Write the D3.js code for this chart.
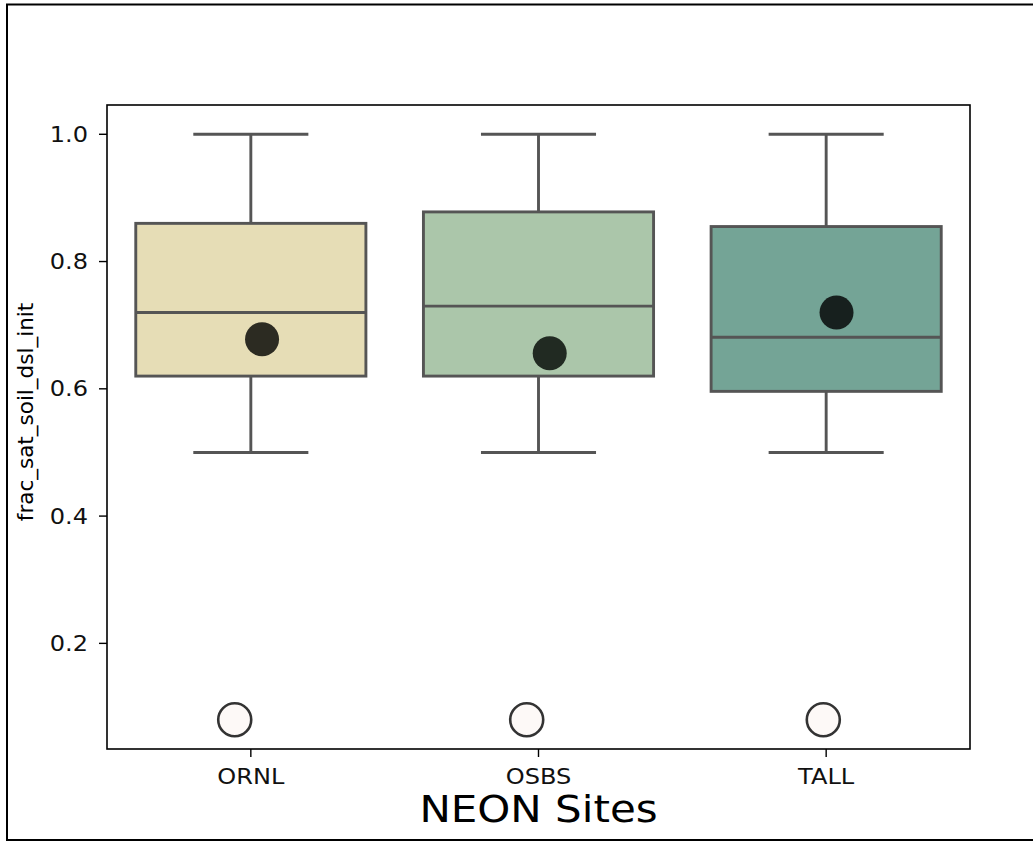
<!DOCTYPE html>
<html>
<head>
<meta charset="utf-8">
<script src="https://cdn.jsdelivr.net/npm/d3@7"></script>
<style>
  body { margin: 0; background: #fff; }
  text { font-family: "DejaVu Sans", sans-serif; }
</style>
</head>
<body>
<div id="canvas"></div>
<script>
"use strict"

let svgWidth = 1033;
let svgHeight = 841;

/* data */
let sites = ["ORNL", "OSBS", "TALL"];
let whiskerLow = [0.5, 0.5, 0.5];
let q1 = [0.62, 0.62, 0.596];
let median = [0.72, 0.73, 0.681];
let q3 = [0.86, 0.878, 0.855];
let whiskerHigh = [1.0, 1.0, 1.0];
let means = [0.678, 0.656, 0.72];
let outliers = [0.08, 0.08, 0.08];
let yTicks = [0.2, 0.4, 0.6, 0.8, 1.0];

let boxColors = ["#e6ddb6", "#abc6aa", "#74a496"];
let meanColors = ["#2c2b22", "#212a22", "#17201e"];
let lineColor = "#555555";

/* strip jitter as a share of the band, as seen in the picture */
let outlierJitter = [-0.056, -0.041, -0.01];
let meanJitter = [0.039, 0.039, 0.036];

let plot = {left: 107, right: 970, top: 105, bottom: 749};
let stretch = 1.12; // text in the picture is a bit wide

let svg = d3.select("#canvas")
    .append("svg")
    .attr("width", svgWidth)
    .attr("height", svgHeight);

/* outer border */
svg.append("rect")
    .attr("x", 7)
    .attr("y", 4.5)
    .attr("width", 1040)
    .attr("height", 835.5)
    .attr("fill", "none")
    .attr("stroke", "black")
    .attr("stroke-width", 2);

/* Scales */
let xScale = d3.scaleBand()
    .domain(sites)
    .range([plot.left, plot.right]);

let yScale = d3.scaleLinear()
    .domain([0.034, 1.046])
    .range([plot.bottom, plot.top]);

let band = xScale.bandwidth();
let boxWidth = band * 0.8;
let capWidth = boxWidth / 2;

let rows = sites.map((s, i) => ({
    site: s, lo: whiskerLow[i], q1: q1[i], med: median[i], q3: q3[i],
    hi: whiskerHigh[i], mean: means[i], out: outliers[i],
    color: boxColors[i], meanColor: meanColors[i],
    oj: outlierJitter[i], mj: meanJitter[i]
}));

let cx = d => xScale(d.site) + band / 2;

let g = svg.selectAll("g.box")
    .data(rows)
    .join("g")
    .attr("class", "box");

/* whiskers */
g.append("line")
    .attr("x1", cx).attr("x2", cx)
    .attr("y1", d => yScale(d.hi)).attr("y2", d => yScale(d.q3))
    .attr("stroke", lineColor).attr("stroke-width", 2.9);

g.append("line")
    .attr("x1", cx).attr("x2", cx)
    .attr("y1", d => yScale(d.q1)).attr("y2", d => yScale(d.lo))
    .attr("stroke", lineColor).attr("stroke-width", 2.9);

g.append("line")
    .attr("x1", d => cx(d) - capWidth / 2).attr("x2", d => cx(d) + capWidth / 2)
    .attr("y1", d => yScale(d.hi)).attr("y2", d => yScale(d.hi))
    .attr("stroke", lineColor).attr("stroke-width", 2.9);

g.append("line")
    .attr("x1", d => cx(d) - capWidth / 2).attr("x2", d => cx(d) + capWidth / 2)
    .attr("y1", d => yScale(d.lo)).attr("y2", d => yScale(d.lo))
    .attr("stroke", lineColor).attr("stroke-width", 2.9);

/* boxes */
g.append("rect")
    .attr("x", d => cx(d) - boxWidth / 2)
    .attr("width", boxWidth)
    .attr("y", d => yScale(d.q3))
    .attr("height", d => yScale(d.q1) - yScale(d.q3))
    .attr("fill", d => d.color)
    .attr("stroke", lineColor)
    .attr("stroke-width", 2.9);

/* median */
g.append("line")
    .attr("x1", d => cx(d) - boxWidth / 2).attr("x2", d => cx(d) + boxWidth / 2)
    .attr("y1", d => yScale(d.med)).attr("y2", d => yScale(d.med))
    .attr("stroke", lineColor).attr("stroke-width", 2.9);

/* mean dots */
g.append("circle")
    .attr("cx", d => cx(d) + d.mj * band)
    .attr("cy", d => yScale(d.mean))
    .attr("r", 17)
    .attr("fill", d => d.meanColor);

/* outliers */
g.append("circle")
    .attr("cx", d => cx(d) + d.oj * band)
    .attr("cy", d => yScale(d.out))
    .attr("r", 16.5)
    .attr("fill", "#fdf9f7")
    .attr("stroke", "#333333")
    .attr("stroke-width", 2.6);

/* axes frame */
svg.append("rect")
    .attr("x", plot.left)
    .attr("y", plot.top)
    .attr("width", plot.right - plot.left)
    .attr("height", plot.bottom - plot.top)
    .attr("fill", "none")
    .attr("stroke", "black")
    .attr("stroke-width", 1.6);

/* y ticks */
yTicks.forEach(function(t) {
    let y = yScale(t);
    svg.append("line")
        .attr("x1", plot.left - 8).attr("x2", plot.left)
        .attr("y1", y).attr("y2", y)
        .attr("stroke", "black").attr("stroke-width", 1.4);
    svg.append("text")
        .attr("transform", "translate(" + (plot.left - 19) + "," + y + ") scale(" + stretch + ",1)")
        .attr("text-anchor", "end")
        .attr("dominant-baseline", "central")
        .attr("font-size", 21.5)
        .attr("fill", "#111")
        .text(t.toFixed(1));
});

/* x ticks */
sites.forEach(function(s) {
    let x = xScale(s) + band / 2;
    svg.append("line")
        .attr("x1", x).attr("x2", x)
        .attr("y1", plot.bottom).attr("y2", plot.bottom + 8)
        .attr("stroke", "black").attr("stroke-width", 1.4);
    svg.append("text")
        .attr("transform", "translate(" + x + ",784) scale(" + stretch + ",1)")
        .attr("text-anchor", "middle")
        .attr("font-size", 21.5)
        .attr("fill", "#111")
        .text(s);
});

/* axis labels */
svg.append("text")
    .attr("transform", "translate(" + ((plot.left + plot.right) / 2) + ",822) scale(" + stretch + ",1)")
    .attr("text-anchor", "middle")
    .attr("font-size", 37.5)
    .attr("fill", "black")
    .text("NEON Sites");

svg.append("text")
    .attr("transform", "translate(33,412) rotate(-90)")
    .attr("text-anchor", "middle")
    .attr("font-size", 21.5)
    .attr("fill", "black")
    .text("frac_sat_soil_dsl_init");
</script>
</body>
</html>
